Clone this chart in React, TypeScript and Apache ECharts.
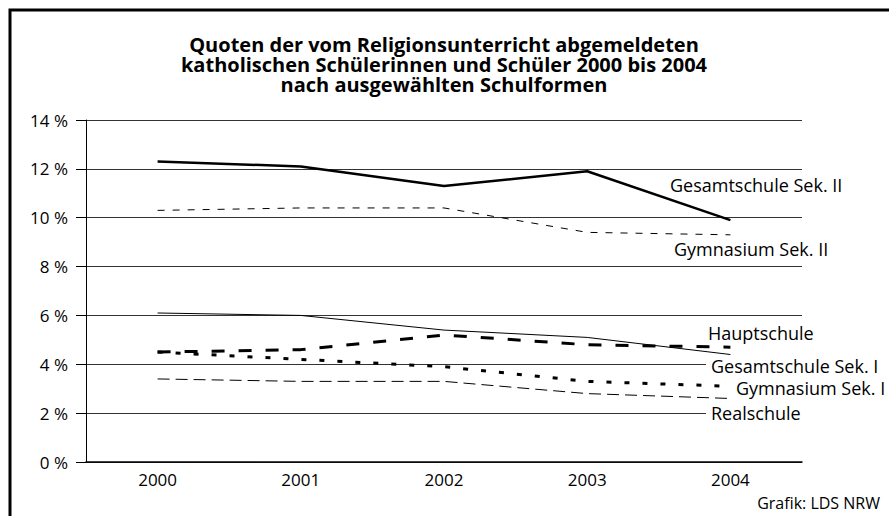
import React, { useEffect, useRef } from "react";
import * as echarts from "echarts";

const titleLines = [
  "Quoten der vom Religionsunterricht abgemeldeten",
  "katholischen Schülerinnen und Schüler 2000 bis 2004",
  "nach ausgewählten Schulformen",
];
const years = ["2000", "2001", "2002", "2003", "2004"];
const seriesNames = [
  "Gesamtschule Sek. II",
  "Gymnasium Sek. II",
  "Hauptschule",
  "Gesamtschule Sek. I",
  "Gymnasium Sek. I",
  "Realschule",
];
const gesamtSek2 = [12.3, 12.1, 11.3, 11.9, 9.9];
const gymSek2 = [10.3, 10.4, 10.4, 9.4, 9.3];
const hauptschule = [4.5, 4.6, 5.2, 4.8, 4.7];
const gesamtSek1 = [6.1, 6.0, 5.4, 5.1, 4.4];
const gymSek1 = [4.5, 4.2, 3.9, 3.3, 3.1];
const realschule = [3.4, 3.3, 3.3, 2.8, 2.6];
const seriesData = [gesamtSek2, gymSek2, hauptschule, gesamtSek1, gymSek1, realschule];
const yMin = 0;
const yMax = 14;
const yStep = 2;
const sourceText = "Grafik: LDS NRW";

const FONT = "'Open Sans', 'DejaVu Sans', sans-serif";

const lineStyles = [
  { width: 2.5, type: "solid" as any },
  { width: 1, type: [7, 8] as any },
  { width: 3, type: [13, 14] as any },
  { width: 1, type: "solid" as any },
  { width: 3, type: [5, 13] as any },
  { width: 1, type: [12, 6] as any },
];

const labelPos: [number, number][] = [
  [665, 185],
  [669, 249],
  [703, 333],
  [706, 366],
  [731, 388],
  [706, 413],
];

export default function App() {
  const ref = useRef<HTMLDivElement>(null);
  useEffect(() => {
    document.body.style.margin = "0";
    const chart = echarts.init(ref.current!, null, { renderer: "svg" });
    chart.setOption({
      animation: false,
      backgroundColor: "#fff",
      textStyle: { fontFamily: FONT },
      grid: { left: 86, right: 87, top: 120, bottom: 54, containLabel: false },
      xAxis: {
        type: "category",
        data: years,
        boundaryGap: true,
        axisLine: { lineStyle: { color: "#000", width: 1.5 } },
        axisTick: { show: false },
        axisLabel: { color: "#000", fontSize: 17, fontFamily: FONT, margin: 9 },
      },
      yAxis: {
        type: "value",
        min: yMin,
        max: yMax,
        interval: yStep,
        axisLine: { show: true, lineStyle: { color: "#000", width: 1 } },
        axisTick: { show: true, length: 10, lineStyle: { color: "#000" } },
        axisLabel: {
          color: "#000",
          fontSize: 17,
          fontFamily: FONT,
          margin: 18,
          formatter: "{value} %",
        },
        splitLine: { lineStyle: { color: "#333", width: 1 } },
      },
      series: seriesData.map((d, i) => ({
        name: seriesNames[i],
        type: "line",
        data: d,
        symbol: "none",
        lineStyle: { color: "#000", width: lineStyles[i].width, type: lineStyles[i].type },
        z: 3,
      })),
      graphic: [
        {
          type: "rect",
          shape: { x: 10, y: 10, width: 1000, height: 1000 },
          style: { fill: "none", stroke: "#000", lineWidth: 3 },
          z: 200,
        },
        ...titleLines.map((t, i) => ({
          type: "text",
          x: 444,
          y: 44 + i * 20,
          z: 100,
          style: {
            text: t,
            fill: "#000",
            font: `bold 20px ${FONT}`,
            lineHeight: 19,
            align: "center",
            verticalAlign: "middle",
          },
        })),
        ...seriesNames.map((n, i) => ({
          type: "text",
          x: labelPos[i][0],
          y: labelPos[i][1],
          z: 100,
          style: {
            text: n,
            fill: "#000",
            font: `18px ${FONT}`,
            lineHeight: 18,
            verticalAlign: "middle",
            align: "left",
            backgroundColor: "#fff",
            padding: [0, 3, 0, 5],
          },
        })),
        {
          type: "text",
          x: 880,
          y: 503,
          z: 100,
          style: {
            text: sourceText,
            fill: "#000",
            font: `16px ${FONT}`,
            verticalAlign: "middle",
            align: "right",
          },
        },
      ],
    });
    return () => chart.dispose();
  }, []);
  return <div ref={ref} style={{ width: 889, height: 516 }} />;
}
